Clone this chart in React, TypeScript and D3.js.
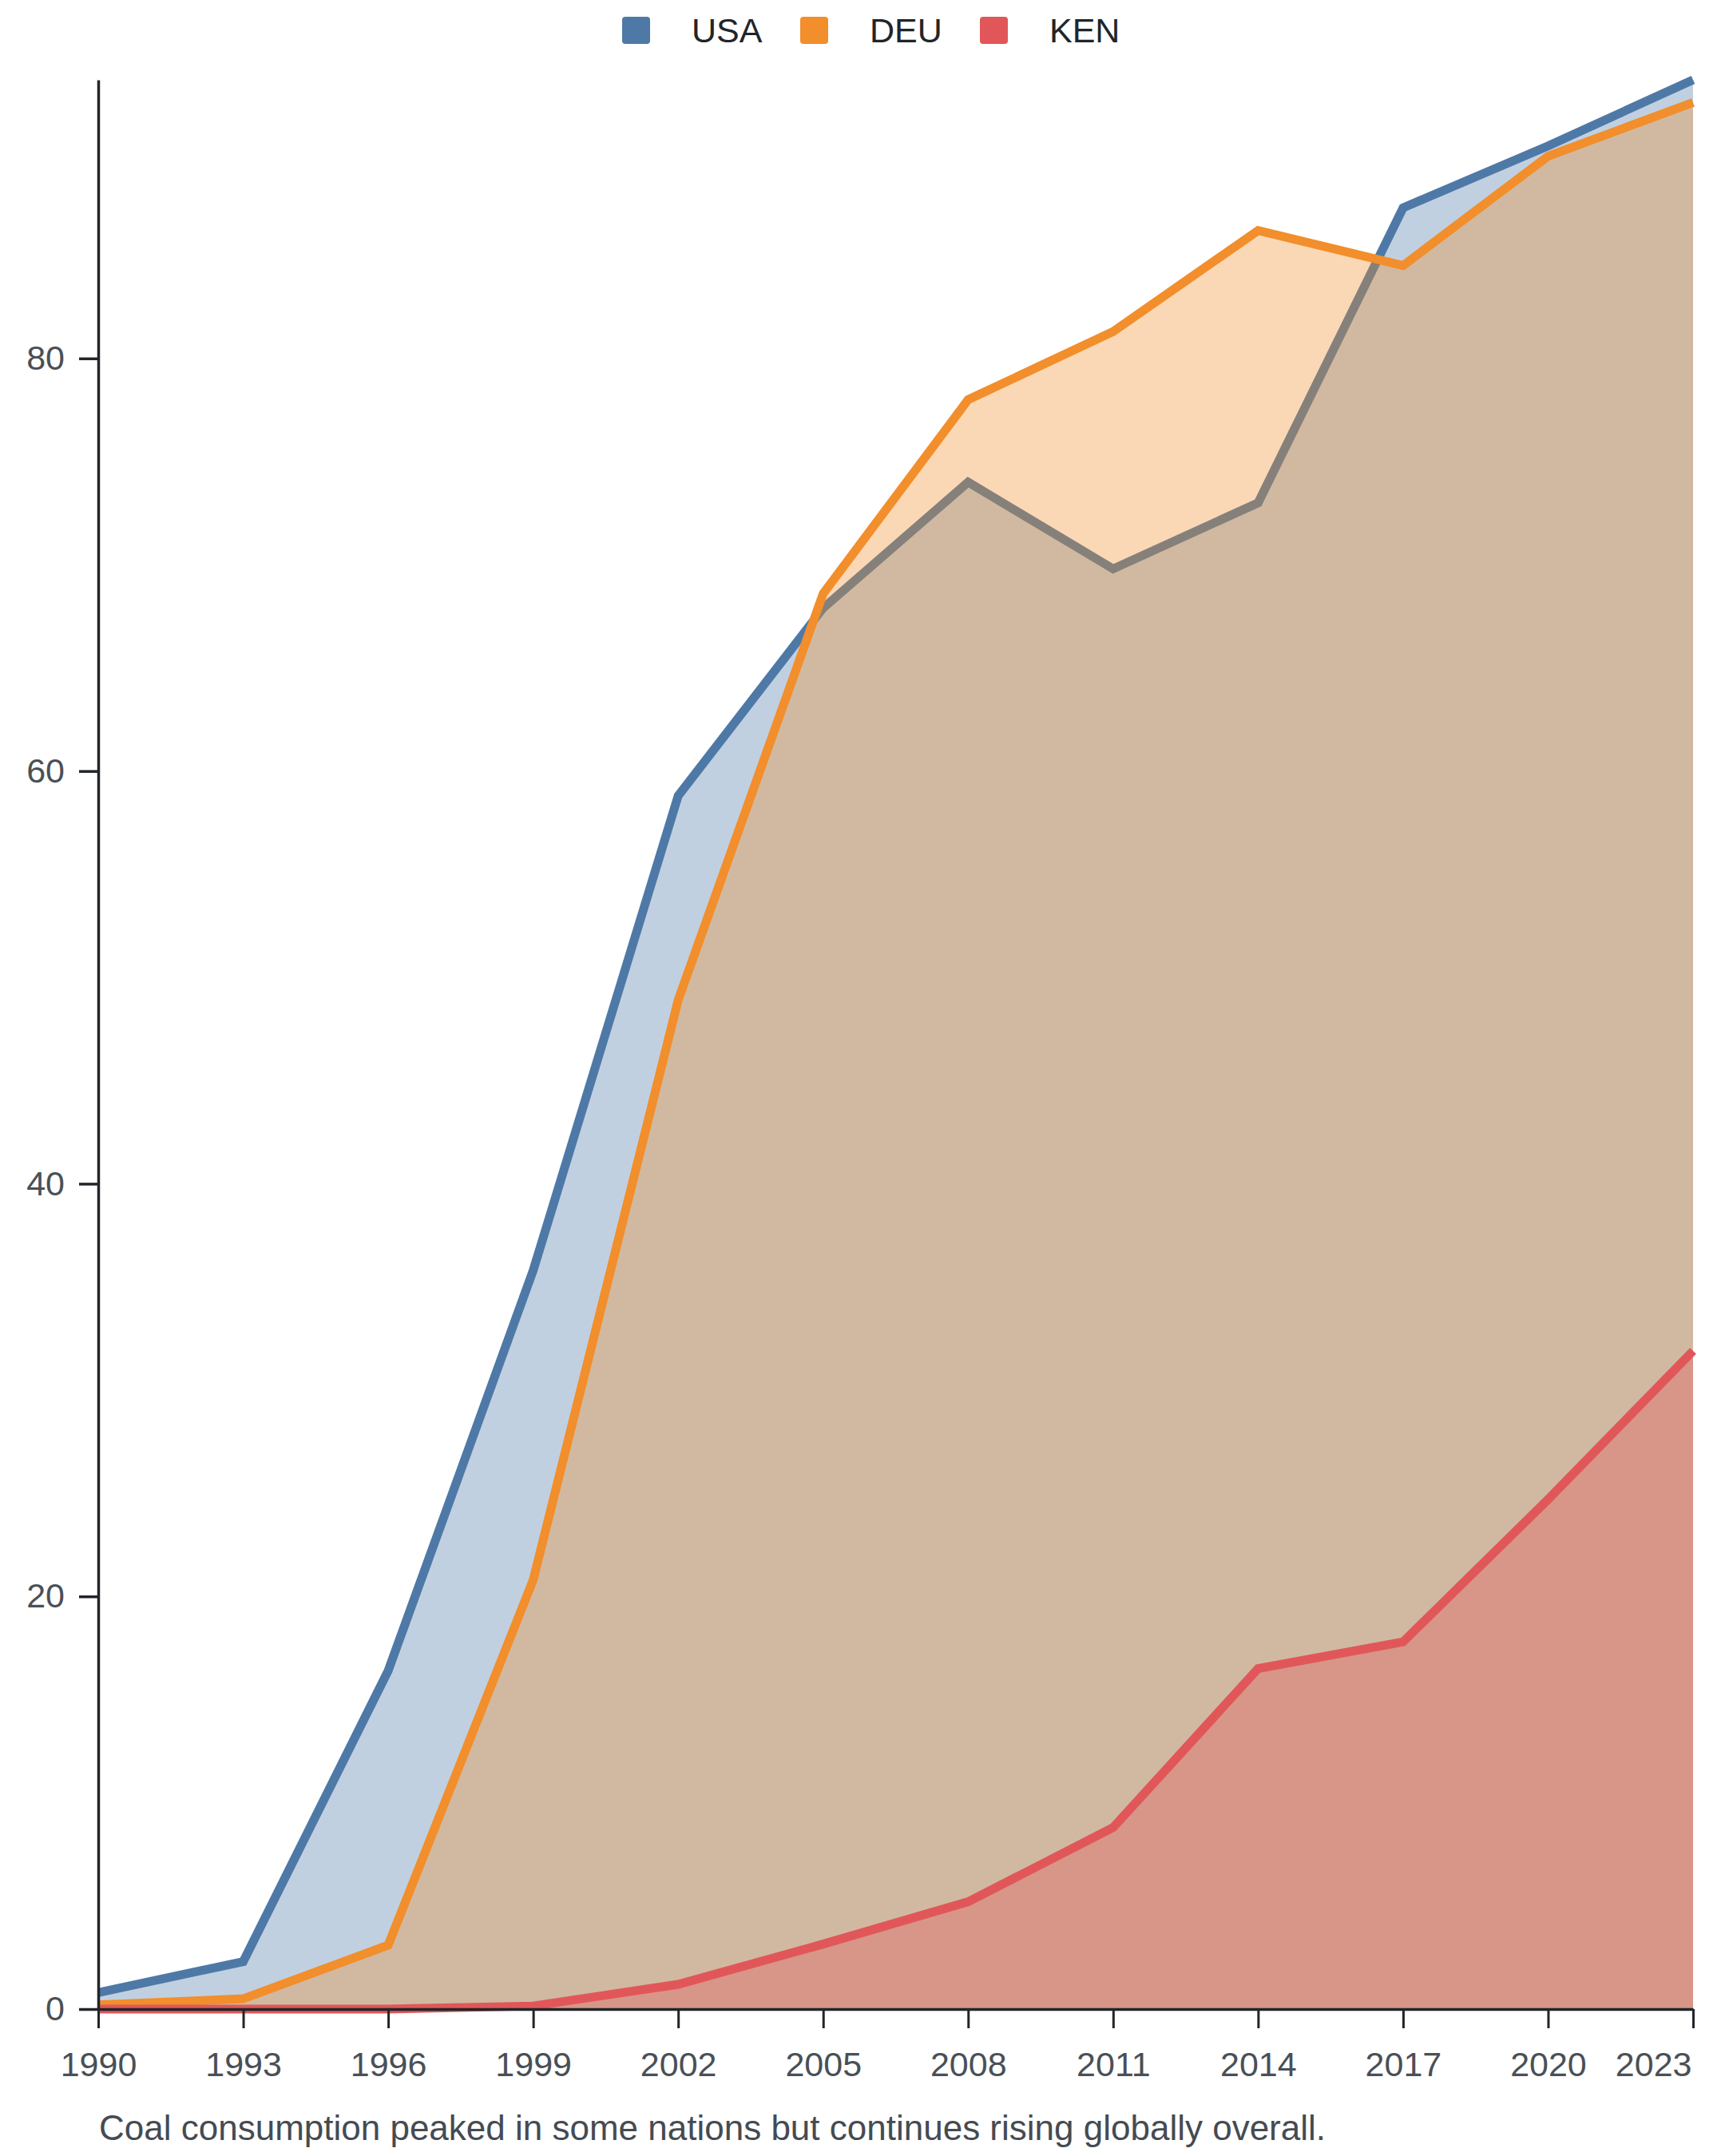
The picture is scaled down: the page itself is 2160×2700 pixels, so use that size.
import React, { useEffect, useRef } from "react";
import * as d3 from "d3";

const years = [1990, 1993, 1996, 1999, 2002, 2005, 2008, 2011, 2014, 2017, 2020, 2023];
const usa = [0.8, 2.3, 16.4, 35.8, 58.8, 67.9, 74.0, 69.8, 73.0, 87.3, 90.3, 93.5];
const deu = [0.2, 0.5, 3.1, 20.8, 48.9, 68.6, 78.0, 81.3, 86.2, 84.5, 89.8, 92.4];
const ken = [0.0, 0.0, 0.0, 0.15, 1.2, 3.15, 5.2, 8.8, 16.5, 17.8, 24.7, 31.9];
const seriesNames = ["USA", "DEU", "KEN"];
const seriesColors = ["#4e79a7", "#f28e2b", "#e15759"];
const yTicks = [0, 20, 40, 60, 80];
const caption = "Coal consumption peaked in some nations but continues rising globally overall.";

const W = 2160;
const H = 2700;
const M = { left: 123, right: 40, top: 100, bottom: 184 };
const FONT = "'Liberation Sans', Arial, Helvetica, sans-serif";

export default function App() {
  const xAxisRef = useRef<SVGGElement>(null);
  const yAxisRef = useRef<SVGGElement>(null);

  const seriesValues = [usa, deu, ken];
  const x = d3.scaleLinear().domain([years[0], years[years.length - 1]]).range([M.left, W - M.right]);
  const maxV = d3.max(seriesValues.flat()) as number;
  const y = d3.scaleLinear().domain([0, maxV]).range([H - M.bottom, M.top]);

  const area = d3
    .area<number>()
    .x((_, i) => x(years[i]))
    .y0(y(0))
    .y1((d) => y(d));
  const line = d3
    .line<number>()
    .x((_, i) => x(years[i]))
    .y((d) => y(d));

  useEffect(() => {
    if (xAxisRef.current) {
      const g = d3.select(xAxisRef.current);
      g.selectAll("*").remove();
      g.call(
        d3
          .axisBottom(x)
          .tickValues(years)
          .tickFormat((d) => String(d))
          .tickSize(24)
          .tickSizeOuter(0)
          .tickPadding(29)
      );
      g.select(".domain").attr("stroke", "#212529").attr("stroke-width", 3.5);
      g.selectAll(".tick line").attr("stroke", "#212529").attr("stroke-width", 3);
      g.selectAll(".tick text")
        .attr("fill", "#495057")
        .style("font-size", "43px")
        .style("font-family", FONT);
      const last = g.selectAll<SVGTextElement, number>(".tick text").filter((d) => d === years[years.length - 1]);
      last.attr("text-anchor", "end").attr("dx", "-2");
    }
    if (yAxisRef.current) {
      const g = d3.select(yAxisRef.current);
      g.selectAll("*").remove();
      g.call(
        d3
          .axisLeft(y)
          .tickValues(yTicks)
          .tickFormat((d) => String(d))
          .tickSize(24)
          .tickSizeOuter(0)
          .tickPadding(18)
      );
      g.select(".domain").attr("stroke", "#212529").attr("stroke-width", 3.5);
      g.selectAll(".tick line").attr("stroke", "#212529").attr("stroke-width", 3.5);
      g.selectAll(".tick text")
        .attr("fill", "#495057")
        .style("font-size", "43px")
        .style("font-family", FONT);
    }
  });

  const legendX = [779, 1002, 1227];

  return (
    <svg
      width={W}
      height={H}
      viewBox={`0 0 ${W} ${H}`}
      style={{ position: "absolute", left: 0, top: 0, background: "#ffffff" }}
      fontFamily={FONT}
    >
      <rect x={0} y={0} width={W} height={H} fill="#ffffff" />
      {seriesValues.map((vals, i) => (
        <g key={seriesNames[i]}>
          <path d={area(vals) || ""} fill={seriesColors[i]} fillOpacity={0.35} stroke="none" />
          <path d={line(vals) || ""} fill="none" stroke={seriesColors[i]} strokeWidth={11} />
        </g>
      ))}
      <g ref={xAxisRef} transform={`translate(0,${y(0)})`} />
      <g ref={yAxisRef} transform={`translate(${M.left},0)`} />
      {seriesNames.map((name, i) => (
        <g key={name}>
          <rect x={legendX[i]} y={21} width={35} height={34} rx={4} fill={seriesColors[i]} />
          <text x={legendX[i] + 87} y={53} fontSize={43} fill="#212529">
            {name}
          </text>
        </g>
      ))}
      <text x={124} y={2680} fontSize={44} fill="#454b52">
        {caption}
      </text>
    </svg>
  );
}
